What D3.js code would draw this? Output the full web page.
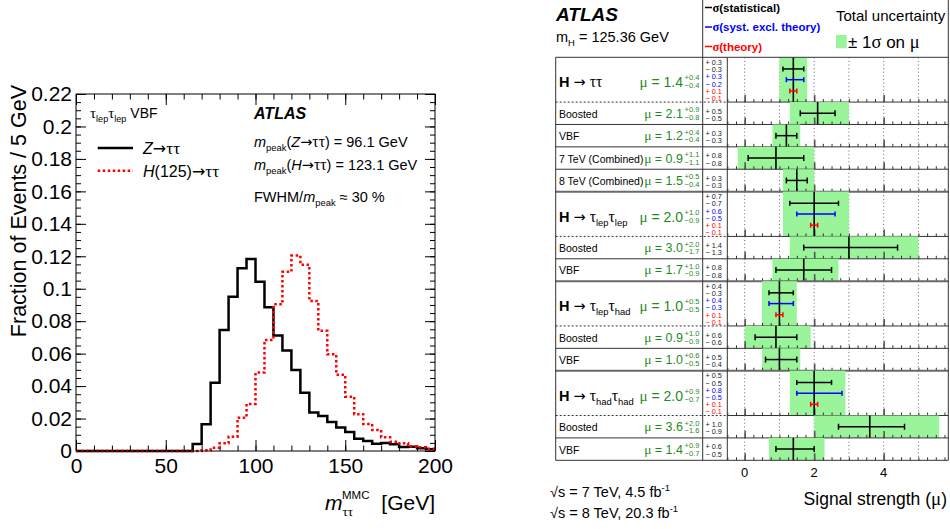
<!DOCTYPE html>
<html>
<head>
<meta charset="utf-8">
<script src="https://cdn.jsdelivr.net/npm/d3@7"></script>
<style>
  body { margin: 0; background: #fff; }
  svg { display: block; font-family: "Liberation Sans", Arial, Helvetica, sans-serif; }
</style>
</head>
<body>
<div id="chart"></div>
<script>
// ---------- data: left panel (MMC mass, tau_lep tau_lep VBF) ----------
const binWidth = 5;
const massTicks = [0, 50, 100, 150, 200];
const fracTicks = [0, 0.02, 0.04, 0.06, 0.08, 0.1, 0.12, 0.14, 0.16, 0.18, 0.2, 0.22];
// fraction of events per 5 GeV bin, 0..200 GeV
const zttFrac = [0, 0, 0, 0, 0, 0, 0, 0, 0, 0, 0, 0, 0,
  0.0043, 0.0165, 0.042, 0.0746, 0.095, 0.1126, 0.1183, 0.1043, 0.0886, 0.0711,
  0.062, 0.0499, 0.0359, 0.0238, 0.0215, 0.0178, 0.0145, 0.0117, 0.0076, 0.0062,
  0.0045, 0.005, 0.0041, 0.0025, 0.0026, 0.0017, 0.0011];
const httFrac = [0, 0, 0, 0, 0, 0, 0, 0, 0, 0, 0, 0, 0, 0,
  0.0005, 0.002, 0.0047, 0.0088, 0.0205, 0.029, 0.0483, 0.0684, 0.0904, 0.1105,
  0.1204, 0.1148, 0.0925, 0.0741, 0.0596, 0.047, 0.0335, 0.0227, 0.0166, 0.0129,
  0.0084, 0.0057, 0.0047, 0.0027, 0.0023, 0.0014];

// ---------- data: right panel (signal strength summary) ----------
const rowNames = ["#H# → ττ", "Boosted", "VBF", "7 TeV (Combined)", "8 TeV (Combined)",
  "#H# → τ_{lep}τ_{lep}", "Boosted", "VBF",
  "#H# → τ_{lep}τ_{had}", "Boosted", "VBF",
  "#H# → τ_{had}τ_{had}", "Boosted", "VBF"];
const isChannel = [1, 0, 0, 0, 0, 1, 0, 0, 1, 0, 0, 1, 0, 0];
const muValue  = [1.4, 2.1, 1.2, 0.9, 1.5, 2.0, 3.0, 1.7, 1.0, 0.9, 1.0, 2.0, 3.6, 1.4];
const totUp    = [0.4, 0.9, 0.4, 1.1, 0.5, 1.0, 2.0, 1.0, 0.5, 1.0, 0.6, 0.9, 2.0, 0.9];
const totDown  = [0.4, 0.8, 0.4, 1.1, 0.4, 0.9, 1.7, 0.9, 0.5, 0.9, 0.5, 0.7, 1.6, 0.7];
const statUp   = [0.3, 0.5, 0.3, 0.8, 0.3, 0.7, 1.4, 0.8, 0.4, 0.6, 0.5, 0.5, 1.0, 0.6];
const statDown = [0.3, 0.5, 0.3, 0.8, 0.3, 0.7, 1.3, 0.8, 0.3, 0.6, 0.4, 0.5, 0.9, 0.5];
const systUp   = [0.3, null, null, null, null, 0.6, null, null, 0.4, null, null, 0.8, null, null];
const systDown = [0.2, null, null, null, null, 0.5, null, null, 0.3, null, null, 0.5, null, null];
const theoUp   = [0.1, null, null, null, null, 0.1, null, null, 0.1, null, null, 0.1, null, null];
const theoDown = [0.1, null, null, null, null, 0.1, null, null, 0.1, null, null, 0.1, null, null];
const muTicks = [0, 2, 4];
const muGrid = [0, 1, 2, 3, 4, 5];

const font = '"Liberation Sans", Arial, Helvetica, sans-serif';
const greekFont = '"Liberation Serif", "DejaVu Serif", serif';
const arrowFont = '"DejaVu Sans", sans-serif';
const green = "#9af59a";
const muGreen = "#1f8a1f";
const blue = "#0000ff";
const red = "#ff0000";
const f1 = d3.format(".1f");

const svg = d3.select("#chart").append("svg")
    .attr("width", 950)
    .attr("height", 529);

// tiny markup: _{sub} ^{sup} *italic* #bold#; greek letters set in a serif face like ROOT's symbol font
function rich(text, str, size) {
    const parts = str.split(/(_\{[^}]*\}|\^\{[^}]*\}|\*[^*]+\*|#[^#]+#)/).filter(s => s !== "");
    let shift = 0;
    parts.forEach(p => {
        let s = 0, txt = p, fs = size, style = null, weight = null;
        if (p.startsWith("_{")) { s = size * 0.3; txt = p.slice(2, -1); fs = size * 0.65; }
        else if (p.startsWith("^{")) { s = -size * 0.42; txt = p.slice(2, -1); fs = size * 0.65; }
        else if (p.startsWith("*")) { txt = p.slice(1, -1); style = "italic"; }
        else if (p.startsWith("#")) { txt = p.slice(1, -1); weight = "bold"; }
        const pieces = txt.split(/([τσμ]+|→)/).filter(s => s !== "");
        pieces.forEach((piece, k) => {
            const ts = text.append("tspan")
                .attr("dy", k === 0 ? s - shift : 0)
                .attr("font-size", fs)
                .text(piece);
            if (/^[τσμ]+$/.test(piece)) ts.attr("font-family", greekFont).attr("font-size", fs * 1.08);
            if (piece === "→") ts.attr("font-family", arrowFont);
            if (style) ts.attr("font-style", style);
            if (weight) ts.attr("font-weight", weight);
        });
        shift = s;
    });
    return text;
}

function label(g, x, y, str, size, opts = {}) {
    const t = g.append("text")
        .attr("x", x)
        .attr("y", y)
        .attr("font-size", size)
        .attr("fill", opts.fill || "#000")
        .attr("text-anchor", opts.anchor || "start");
    if (opts.weight) t.attr("font-weight", opts.weight);
    if (opts.style) t.attr("font-style", opts.style);
    return rich(t, str, size);
}

// ================= left panel =================
const x = d3.scaleLinear().domain([0, 200]).range([76, 435]);
const y = d3.scaleLinear().domain([0, 0.22]).range([451, 94]);
const left = svg.append("g");

function cleanAxis(g, size) {
    g.select(".domain").remove();
    g.selectAll("line").attr("stroke", "#000");
    g.selectAll("text").attr("font-size", size).attr("font-family", font).attr("fill", "#000");
}

const fracMinor = d3.range(0, 0.2201, 0.005);
const massMinor = d3.range(0, 201, 10);

left.append("g").attr("transform", "translate(76,0)")
    .call(d3.axisLeft(y).tickValues(fracTicks).tickSize(-10).tickPadding(4).tickFormat(d3.format("~g")))
    .call(cleanAxis, 21);
left.append("g").attr("transform", "translate(76,0)")
    .call(d3.axisLeft(y).tickValues(fracMinor).tickSize(-5).tickFormat(""))
    .call(cleanAxis, 21);
left.append("g").attr("transform", "translate(435,0)")
    .call(d3.axisRight(y).tickValues(fracTicks).tickSize(-10).tickFormat(""))
    .call(cleanAxis, 21);
left.append("g").attr("transform", "translate(435,0)")
    .call(d3.axisRight(y).tickValues(fracMinor).tickSize(-5).tickFormat(""))
    .call(cleanAxis, 21);
left.append("g").attr("transform", "translate(0,451)")
    .call(d3.axisBottom(x).tickValues(massTicks).tickSize(-11).tickPadding(7))
    .call(cleanAxis, 21);
left.append("g").attr("transform", "translate(0,451)")
    .call(d3.axisBottom(x).tickValues(massMinor).tickSize(-5.5).tickFormat(""))
    .call(cleanAxis, 21);
left.append("g").attr("transform", "translate(0,94)")
    .call(d3.axisTop(x).tickValues(massTicks).tickSize(-11).tickFormat(""))
    .call(cleanAxis, 21);
left.append("g").attr("transform", "translate(0,94)")
    .call(d3.axisTop(x).tickValues(massMinor).tickSize(-5.5).tickFormat(""))
    .call(cleanAxis, 21);

function histPoints(frac) {
    const pts = frac.map((v, i) => [i * binWidth, v]);
    pts.push([frac.length * binWidth, frac[frac.length - 1]]);
    return pts;
}
const stepLine = d3.line()
    .x(d => x(d[0]))
    .y(d => y(d[1]))
    .curve(d3.curveStepAfter);

left.append("path")
    .attr("d", stepLine(histPoints(zttFrac)))
    .attr("fill", "none")
    .attr("stroke", "#000")
    .attr("stroke-width", 2.5);
left.append("path")
    .attr("d", stepLine(histPoints(httFrac)))
    .attr("fill", "none")
    .attr("stroke", red)
    .attr("stroke-width", 2.5)
    .attr("stroke-dasharray", "2.5,2.5");

left.append("rect")
    .attr("x", 76).attr("y", 94)
    .attr("width", 359).attr("height", 357)
    .attr("fill", "none")
    .attr("stroke", "#000")
    .attr("stroke-width", 1);

// axis titles
label(left, 0, 0, "Fraction of Events / 5 GeV", 21.5, { anchor: "end" })
    .attr("transform", "translate(26,85) rotate(-90)");
// m_tautau^MMC with stacked sub/superscript, kept in one text element
const xt = left.append("text").attr("x", 325).attr("y", 510).attr("font-size", 21);
xt.append("tspan").attr("font-style", "italic").text("m");
xt.append("tspan").attr("dy", 6).attr("font-size", 13).attr("font-family", greekFont).text("ττ");
xt.append("tspan").attr("x", 342).attr("dy", -17).attr("font-size", 11.5).text("MMC");
label(left, 435, 510, "[GeV]", 21, { anchor: "end" });

// legend and annotations
label(left, 90, 118, "τ_{lep}τ_{lep} VBF", 14);
left.append("line").attr("x1", 97.7).attr("x2", 133).attr("y1", 148).attr("y2", 148)
    .attr("stroke", "#000").attr("stroke-width", 2.5);
label(left, 143, 154, "*Z*→ττ", 16);
left.append("line").attr("x1", 97.7).attr("x2", 133).attr("y1", 170.7).attr("y2", 170.7)
    .attr("stroke", red).attr("stroke-width", 2.5).attr("stroke-dasharray", "2.5,2.5");
label(left, 143, 176.7, "*H*(125)→ττ", 16);

label(left, 254, 119, "ATLAS", 16, { weight: "bold", style: "italic" });
label(left, 254, 146.7, "*m*_{peak}(*Z*→ττ) = 96.1 GeV", 14.5);
label(left, 254, 170, "*m*_{peak}(*H*→ττ) = 123.1 GeV", 14.5);
label(left, 254, 201.7, "FWHM/*m*_{peak} ≈ 30 %", 14.5);

// ================= right panel =================
const right = svg.append("g");
const xMu = d3.scaleLinear().domain([-0.5, 5.86]).range([727.3, 948.3]);
const rowUnits = isChannel.map(c => (c ? 2 : 1));
const rowStart = [];
let acc = 0;
rowUnits.forEach(u => { rowStart.push(acc); acc += u; });
const yRow = d3.scaleLinear().domain([0, acc]).range([57.3, 460.3]);

const tableL = 555.7, labelR = 702.7, plotL = 727.3, plotR = 948.3;
const muMinor = d3.range(-0.5, 5.86, 0.25);

function errBar(g, mu, up, dn, yy, color, cap) {
    g.append("line")
        .attr("x1", xMu(mu - dn)).attr("x2", xMu(mu + up))
        .attr("y1", yy).attr("y2", yy)
        .attr("stroke", color).attr("stroke-width", 1.5);
    [mu - dn, mu + up].forEach(v => {
        g.append("line")
            .attr("x1", xMu(v)).attr("x2", xMu(v))
            .attr("y1", yy - cap).attr("y2", yy + cap)
            .attr("stroke", color).attr("stroke-width", 1.5);
    });
}

rowNames.forEach((name, i) => {
    const t = yRow(rowStart[i]);
    const b = yRow(rowStart[i] + rowUnits[i]);
    const h = b - t, mid = (t + b) / 2;
    const head = isChannel[i] === 1;
    const g = right.append("g");

    // dotted grid
    g.selectAll(".grid").data(muGrid).join("line")
        .attr("x1", d => xMu(d)).attr("x2", d => xMu(d))
        .attr("y1", t).attr("y2", b)
        .attr("stroke", "#666").attr("stroke-width", 1)
        .attr("stroke-dasharray", "1,2.6");

    // total uncertainty band
    const lo = xMu(muValue[i] - totDown[i]), hi = xMu(muValue[i] + totUp[i]);
    g.append("rect")
        .attr("x", Math.max(lo, plotL)).attr("width", hi - Math.max(lo, plotL))
        .attr("y", t).attr("height", h)
        .attr("fill", green);

    // axis ticks at the bottom of each row
    g.append("g").attr("transform", `translate(0,${b})`)
        .call(d3.axisBottom(xMu).tickValues(muMinor).tickSize(-3).tickFormat(""))
        .call(ax => {
            ax.select(".domain").remove();
            ax.selectAll("line").attr("stroke", "#333");
        });
    g.append("g").attr("transform", `translate(0,${b})`)
        .call(d3.axisBottom(xMu).tickValues(muTicks).tickSize(-7).tickFormat(""))
        .call(ax => {
            ax.select(".domain").remove();
            ax.selectAll("line").attr("stroke", "#555").attr("stroke-width", 1.6);
        });

    // central value
    g.append("line")
        .attr("x1", xMu(muValue[i])).attr("x2", xMu(muValue[i]))
        .attr("y1", t).attr("y2", b)
        .attr("stroke", "#000").attr("stroke-width", 1.6);

    // error bars
    if (head) {
        errBar(g, muValue[i], statUp[i], statDown[i], t + 0.26 * h, "#000", 2.5);
        errBar(g, muValue[i], systUp[i], systDown[i], t + 0.5 * h, blue, 2.5);
        errBar(g, muValue[i], theoUp[i], theoDown[i], t + 0.75 * h, red, 2.5);
    } else {
        errBar(g, muValue[i], statUp[i], statDown[i], mid, "#000", 3);
    }

    // labels
    if (head) {
        label(g, 559, mid + 7.5, name, 14.5);
        label(g, 683, mid + 7.5, "μ = " + f1(muValue[i]), 14, { anchor: "end", fill: muGreen });
        label(g, 684.5, mid + 0.5, "+" + f1(totUp[i]), 7.5, { fill: muGreen });
        label(g, 684.5, mid + 8.8, "−" + f1(totDown[i]), 7.5, { fill: muGreen });
        const lines = [
            ["+ " + f1(statUp[i]), "#222"], ["− " + f1(statDown[i]), "#222"],
            ["+ " + f1(systUp[i]), blue], ["− " + f1(systDown[i]), blue],
            ["+ " + f1(theoUp[i]), red], ["− " + f1(theoDown[i]), red]
        ];
        lines.forEach((l, k) => label(g, 705.5, t + 5 + k * 7.2 + 2.6, l[0], 7.3, { fill: l[1] }));
    } else {
        label(g, 559, mid + 4.5, name, 10.5);
        label(g, 683, mid + 4.5, "μ = " + f1(muValue[i]), 12.5, { anchor: "end", fill: muGreen });
        label(g, 684.5, mid - 1.1, "+" + f1(totUp[i]), 7.5, { fill: muGreen });
        label(g, 684.5, mid + 6.5, "−" + f1(totDown[i]), 7.5, { fill: muGreen });
        label(g, 705.5, t + 0.4 * h + 2.6, "+ " + f1(statUp[i]), 7.3, { fill: "#222" });
        label(g, 705.5, t + 0.73 * h + 2.6, "− " + f1(statDown[i]), 7.3, { fill: "#222" });
    }

    // row separator
    if (i < rowNames.length - 1) {
        if (isChannel[i + 1] === 1) {
            right.append("line").attr("x1", tableL).attr("x2", plotR).attr("y1", b).attr("y2", b)
                .attr("stroke", "#6a6a6a").attr("stroke-width", 2);
        } else if (head) {
            right.append("line").attr("x1", tableL).attr("x2", plotL).attr("y1", b).attr("y2", b)
                .attr("stroke", "#333").attr("stroke-width", 1).attr("stroke-dasharray", "2,2");
            right.append("line").attr("x1", plotL).attr("x2", plotR).attr("y1", b).attr("y2", b)
                .attr("stroke", "#333").attr("stroke-width", 1);
        } else {
            right.append("line").attr("x1", tableL).attr("x2", plotR).attr("y1", b).attr("y2", b)
                .attr("stroke", "#333").attr("stroke-width", 1);
        }
    }
});

// table frame
const tableTop = yRow(0), tableBottom = yRow(acc);
[[tableL, plotR, tableTop, tableTop], [tableL, plotR, tableBottom, tableBottom],
 [tableL, tableL, tableTop, tableBottom], [labelR, labelR, 0, tableBottom],
 [plotL, plotL, tableTop, tableBottom], [plotR, plotR, 0, tableBottom]].forEach(s => {
    right.append("line")
        .attr("x1", s[0]).attr("x2", s[1]).attr("y1", s[2]).attr("y2", s[3])
        .attr("stroke", "#333").attr("stroke-width", 1);
});

// mu axis labels
right.selectAll(".mutick").data(muTicks).join("text")
    .attr("x", d => xMu(d)).attr("y", 476.7)
    .attr("text-anchor", "middle")
    .attr("font-size", 13)
    .text(d => d);
label(right, 947, 505, "Signal strength (μ)", 17.5, { anchor: "end" });

// header
label(right, 556, 21, "ATLAS", 19, { weight: "bold", style: "italic" });
label(right, 556, 41.5, "m_{H} = 125.36 GeV", 14.5);

const legendRows = [["σ(statistical)", "#000", 11.5], ["σ(syst. excl. theory)", blue, 31], ["σ(theory)", red, 50.5]];
legendRows.forEach(r => {
    right.append("line").attr("x1", 705).attr("x2", 712).attr("y1", r[2] - 4).attr("y2", r[2] - 4)
        .attr("stroke", r[1]).attr("stroke-width", 1.5);
    label(right, 712.5, r[2], r[0], 11.5, { weight: "bold", fill: r[1] });
});
label(right, 836, 20.5, "Total uncertainty", 15);
right.append("rect").attr("x", 836).attr("y", 35).attr("width", 10.7).attr("height", 13.3).attr("fill", green);
label(right, 848, 47.7, "± 1σ on μ", 17);

// energies
label(right, 550, 496.7, "√s = 7 TeV, 4.5 fb^{-1}", 14.5);
label(right, 550, 518.3, "√s = 8 TeV, 20.3 fb^{-1}", 14.5);
</script>
</body>
</html>
